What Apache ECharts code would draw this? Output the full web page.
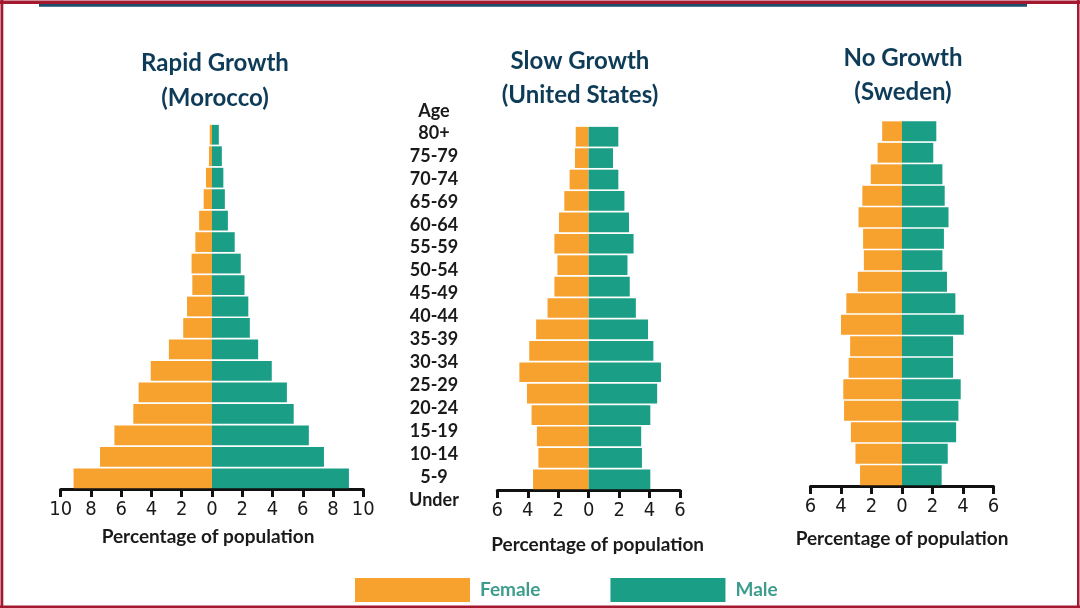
<!DOCTYPE html>
<html>
<head>
<meta charset="utf-8">
<title>Population pyramids</title>
<script src="https://cdn.jsdelivr.net/npm/echarts@6/dist/echarts.min.js"></script>
<style>
  html, body { margin: 0; padding: 0; background: #ffffff; }
  #chart { width: 1080px; height: 608px; }
</style>
</head>
<body>
<div id="chart"></div>
<script>
// Age groups, oldest at the top
const ageGroups = ['80+', '75-79', '70-74', '65-69', '60-64', '55-59', '50-54', '45-49',
  '40-44', '35-39', '30-34', '25-29', '20-24', '15-19', '10-14', '5-9', 'Under'];

// Percentage of population per age group (top to bottom)
const moroccoFemale = [0.15, 0.2, 0.4, 0.55, 0.85, 1.1, 1.35, 1.3, 1.65, 1.9, 2.85, 4.05, 4.85, 5.2, 6.45, 7.4, 9.15];
const moroccoMale   = [0.45, 0.65, 0.75, 0.85, 1.05, 1.5, 1.9, 2.15, 2.4, 2.5, 3.05, 3.95, 4.95, 5.4, 6.4, 7.4, 9.05];
const usFemale      = [0.85, 0.9, 1.25, 1.6, 1.95, 2.25, 2.05, 2.25, 2.7, 3.45, 3.9, 4.55, 4.05, 3.75, 3.4, 3.3, 3.65];
const usMale        = [1.95, 1.6, 1.95, 2.35, 2.65, 2.95, 2.55, 2.7, 3.1, 3.9, 4.25, 4.75, 4.5, 4.05, 3.45, 3.5, 4.05];
const swedenFemale  = [1.3, 1.6, 2.05, 2.6, 2.85, 2.55, 2.5, 2.9, 3.65, 4.0, 3.4, 3.5, 3.85, 3.8, 3.35, 3.05, 2.75];
const swedenMale    = [2.25, 2.05, 2.65, 2.8, 3.05, 2.75, 2.65, 2.95, 3.5, 4.05, 3.35, 3.35, 3.85, 3.7, 3.55, 3.0, 2.6];

// Axis extents for each pyramid
const moroccoRange = 10;
const usRange = 6;
const swedenRange = 6;

const FEMALE = '#F7A12F';
const MALE = '#1B9E86';
const TITLE = '#0E3B57';
const INK = '#1A1A1A';
const FRAME = '#A3192F';
const NAVY = '#1D4E6E';

const tickFont = '"Liberation Sans Narrow", "DejaVu Sans Condensed", "Roboto", sans-serif';
const bodyFont = 'Lato, "Open Sans", sans-serif';

const panels = [
  { female: moroccoFemale, male: moroccoMale, range: moroccoRange,
    grid: { left: 60.7, width: 302.6, top: 124, height: 365 }, nameGap: 38, namePad: [0, 8, 0, 0] },
  { female: usFemale, male: usMale, range: usRange,
    grid: { left: 497.3, width: 182.7, top: 126, height: 364 }, nameGap: 45, namePad: [0, 0, 0, 18] },
  { female: swedenFemale, male: swedenMale, range: swedenRange,
    grid: { left: 810.5, width: 183, top: 120.5, height: 365.5 }, nameGap: 43, namePad: [0, 0, 0, 0] }
];

const grid = [];
const xAxis = [];
const yAxis = [];
const series = [];

panels.forEach((p, i) => {
  grid.push(Object.assign({ containLabel: false }, p.grid));
  xAxis.push({
    type: 'value', gridIndex: i,
    min: -p.range, max: p.range, interval: 2,
    name: 'Percentage of population',
    nameLocation: 'middle', nameGap: p.nameGap,
    nameTextStyle: { fontFamily: bodyFont, fontWeight: 'bold', fontSize: 19, color: INK, padding: p.namePad },
    axisLine: { show: true, onZero: false, lineStyle: { color: '#111', width: 3 } },
    axisTick: { show: true, length: 8, lineStyle: { color: '#111', width: 3 } },
    axisLabel: {
      margin: 11, fontFamily: tickFont, fontSize: 20, color: INK,
      formatter: v => String(Math.abs(v))
    },
    splitLine: { show: false }
  });
  yAxis.push({
    type: 'category', gridIndex: i, data: ageGroups, inverse: true,
    show: false
  });
  series.push({
    name: 'Female', type: 'bar', xAxisIndex: i, yAxisIndex: i, stack: 'pyr' + i,
    barCategoryGap: '8%',
    itemStyle: { color: FEMALE },
    data: p.female.map(v => -v)
  });
  series.push({
    name: 'Male', type: 'bar', xAxisIndex: i, yAxisIndex: i, stack: 'pyr' + i,
    barCategoryGap: '8%',
    itemStyle: { color: MALE },
    data: p.male
  });
});

// Central column of age-group labels
grid.push({ left: 434, width: 1, top: 121.5, bottom: 96.5 });
xAxis.push({ type: 'value', gridIndex: 3, show: false });
yAxis.push({
  type: 'category', gridIndex: 3, data: ageGroups, inverse: true,
  axisLine: { show: false }, axisTick: { show: false },
  axisLabel: { interval: 0, margin: 0, align: 'center', fontFamily: bodyFont, fontWeight: 'bold', fontSize: 18, color: INK }
});

function titleText(text, x, y) {
  return {
    type: 'text', x: x, y: y, silent: true,
    style: { text: text, align: 'center', verticalAlign: 'middle',
      fontFamily: bodyFont, fontWeight: 'bold', fontSize: 24, fill: TITLE }
  };
}

const option = {
  backgroundColor: '#ffffff',
  animation: false,
  grid: grid,
  xAxis: xAxis,
  yAxis: yAxis,
  series: series,
  legend: {
    data: ['Female', 'Male'],
    left: 355, top: 578, padding: 0,
    icon: 'rect',
    itemWidth: 115, itemHeight: 24, itemGap: 70,
    textStyle: { fontFamily: bodyFont, fontWeight: 'bold', fontSize: 19, color: '#3D9C8C', padding: [0, 0, 0, 5] }
  },
  graphic: [
    // frame
    { type: 'rect', shape: { x: 0, y: 0.5, width: 1080, height: 3.5 }, style: { fill: FRAME }, silent: true },
    { type: 'rect', shape: { x: 39, y: 4, width: 988, height: 2.7 }, style: { fill: NAVY }, silent: true },
    { type: 'rect', shape: { x: 0.5, y: 0, width: 2.8, height: 608 }, style: { fill: FRAME }, silent: true },
    { type: 'rect', shape: { x: 1077, y: 0, width: 2.5, height: 608 }, style: { fill: FRAME }, silent: true },
    { type: 'rect', shape: { x: 0, y: 605.5, width: 1080, height: 2.5 }, style: { fill: FRAME }, silent: true },
    // panel titles
    titleText('Rapid Growth', 215, 63),
    titleText('(Morocco)', 215, 98),
    titleText('Slow Growth', 580, 61),
    titleText('(United States)', 580, 95),
    titleText('No Growth', 903, 58),
    titleText('(Sweden)', 903, 92),
    // header of the age column
    { type: 'text', x: 434, y: 111, silent: true,
      style: { text: 'Age', align: 'center', verticalAlign: 'middle',
        fontFamily: bodyFont, fontWeight: 'bold', fontSize: 18, fill: INK } }
  ]
};

const chart = echarts.init(document.getElementById('chart'), null, { renderer: 'canvas' });
chart.setOption(option);
</script>
</body>
</html>
